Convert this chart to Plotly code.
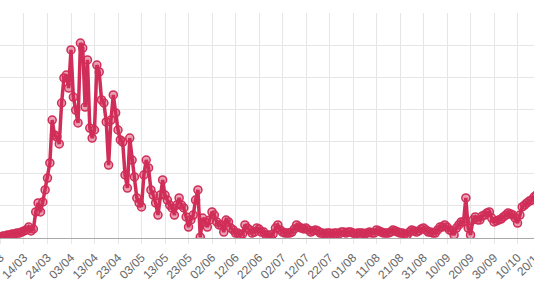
import plotly.graph_objects as go
import pandas as pd

start_date = "2020-03-01"
values = [
    0, 0, 3,
    6, 12, 12, 19, 19, 25, 25, 31, 31, 37,
    44, 50, 68, 44, 56, 162, 218, 162, 224, 299,
    373, 467, 734, 641, 628, 585, 840, 996, 1014, 933,
    1170, 877, 796, 716, 1213, 1182, 815, 1108, 684, 622,
    672, 1076, 1033, 859, 840, 722, 454, 734, 890, 778,
    672, 610, 597, 392, 311, 622, 485, 380, 249, 218,
    193, 392, 485, 436, 299, 267, 218, 143, 267, 361,
    267, 236, 205, 187, 143, 205, 249, 205, 187, 131,
    68, 112, 143, 236, 299, 5, 124, 100, 68, 112,
    162, 143, 100, 81, 81, 37, 112, 100, 62, 50,
    31, 31, 19, 25, 81, 62, 50, 31, 37, 62,
    56, 37, 37, 19, 19, 2, 25, 62, 81, 50,
    37, 31, 31, 31, 37, 56, 81, 68, 62, 56,
    62, 50, 37, 44, 50, 44, 31, 31, 25, 31,
    31, 25, 31, 31, 25, 37, 37, 31, 37, 37,
    31, 25, 31, 31, 31, 25, 31, 37, 31, 31,
    50, 44, 37, 31, 31, 31, 37, 50, 44, 37,
    31, 31, 25, 19, 37, 50, 44, 37, 44, 56,
    62, 50, 37, 37, 31, 31, 50, 68, 68, 81,
    68, 50, 44, 19, 62, 81, 100, 100, 249, 62,
    19, 112, 131, 112, 112, 137, 143, 156, 162, 124,
    100, 106, 112, 118, 131, 143, 156, 149, 143, 124,
    93, 143, 193, 205, 218, 230, 236, 255, 267, 249,
    286,
]
dates = pd.date_range(start_date, periods=len(values), freq="D")

x_range = ["2020-03-03 19:00", "2020-10-17 00:00"]
tick_start = "2020-03-04"
cut_label = "20/10"
y_max = 1400
y_step = 200

line_color = "rgb(208,46,88)"
label_color = "#666"

fig = go.Figure(
    go.Scatter(
        x=dates,
        y=values,
        mode="lines+markers",
        line=dict(color=line_color, width=3.5),
        marker=dict(size=8, color="rgba(208,46,88,0.45)",
                    line=dict(color=line_color, width=1.5)),
        hoverinfo="skip",
    )
)

fig.update_layout(
    width=534,
    height=287,
    margin=dict(l=0, r=0, t=13, b=49, autoexpand=False),
    paper_bgcolor="white",
    plot_bgcolor="white",
    showlegend=False,
    font=dict(family="Liberation Sans, Arial, sans-serif", size=12, color=label_color),
)
fig.update_xaxes(
    range=x_range,
    tick0=tick_start,
    dtick=864000000,
    tickformat="%d/%m",
    tickangle=-45,
    ticklabeloverflow="allow",
    ticklabelstandoff=2,
    automargin=False,
    showgrid=True,
    gridcolor="#e6e6e6",
    gridwidth=1,
    showline=True,
    linecolor="#aaaaaa",
    linewidth=1,
    ticks="outside",
    ticklen=5,
    tickcolor="#e6e6e6",
    zeroline=False,
    tickfont=dict(size=12, color=label_color),
)
fig.update_yaxes(
    range=[0, y_max],
    dtick=y_step,
    showticklabels=False,
    automargin=False,
    showgrid=True,
    gridcolor="#e6e6e6",
    gridwidth=1,
    zeroline=False,
    showline=False,
)

# tick label of the next tick, just past the right edge (cut off as in the reference)
fig.add_annotation(
    x=1.027, xref="paper", y=0, yref="paper",
    text=cut_label, showarrow=False, textangle=-45,
    xanchor="right", yanchor="top", yshift=-7,
    font=dict(size=12, color=label_color),
)

fig.write_html("out.html")
